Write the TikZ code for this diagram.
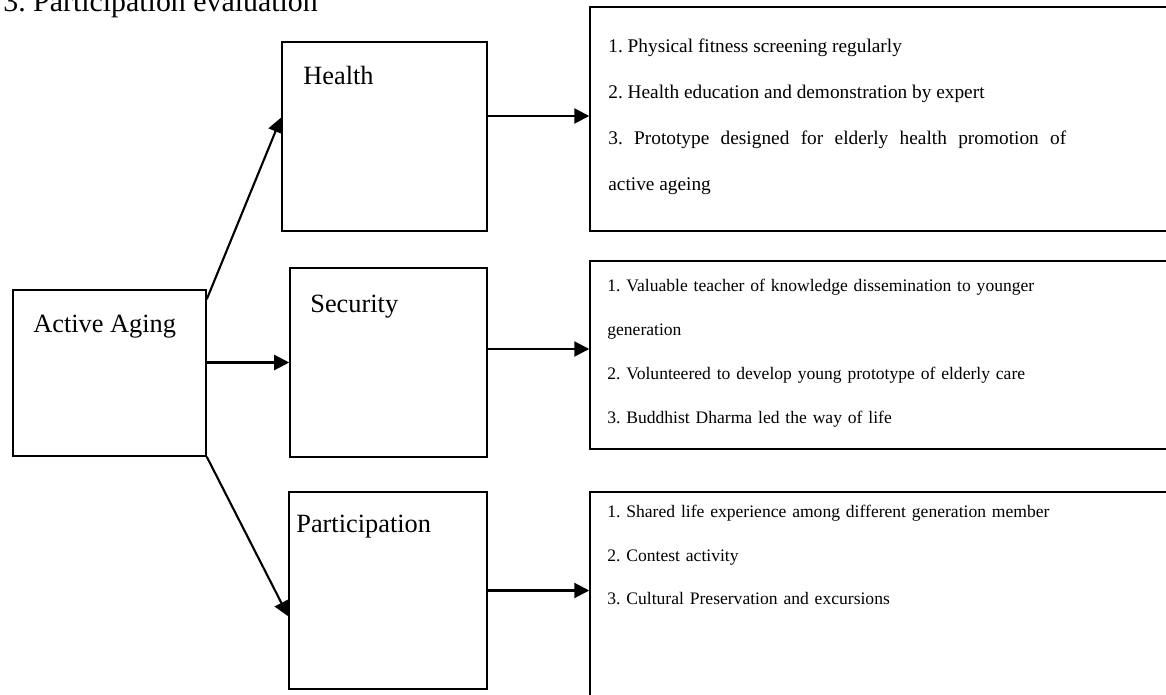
\documentclass[tikz,border=0pt]{standalone}
\usepackage{fontspec}
\setmainfont{Liberation Serif}
\usetikzlibrary{arrows.meta,calc}
\frenchspacing

\begin{document}
\begin{tikzpicture}[x=0.02cm, y=-0.02cm,
        box/.style={draw, line width=0.9pt, inner sep=0pt},
        lbl/.style={anchor=base west, inner sep=0pt, font=\fontsize{15}{18}\selectfont},
        items/.style={anchor=base west, inner sep=0pt, text width=10.5cm, align=left},
        arr/.style={-{Triangle[length=3mm,width=3mm]}, line width=1.2pt}
    ]
        \useasboundingbox (0,0) rectangle (1166,695);

        \node[anchor=base west, inner sep=0pt, font=\fontsize{17}{20}\selectfont] (title) at (3,12) {3. Participation evaluation};

        % left
        \node[box, minimum width=3.86cm, minimum height=3.32cm] (act) at (109.5,373) {};
        \node[lbl] (acttxt) at (33,333) {Active Aging};

        % middle
        \node[box, minimum width=4.1cm, minimum height=3.78cm] (health) at (384.5,136.5) {};
        \node[lbl] (healthtxt) at (303,85) {Health};
        \node[box, minimum width=3.94cm, minimum height=3.78cm] (sec) at (388.5,362.5) {};
        \node[lbl] (sectxt) at (310,313) {Security};
        \node[box, minimum width=3.96cm, minimum height=3.94cm] (part) at (388,590.5) {};
        \node[lbl] (parttxt) at (296,532) {Participation};

        % right
        \node[box, minimum width=12.2cm, minimum height=4.48cm] (hlist) at (895,119) {};
        \node[items, text width=9.16cm, align=justify, font=\fontsize{11}{26}\selectfont] (hitems) at (608,53) {
            1. Physical fitness screening regularly\\
            2. Health education and demonstration by expert\\
            3. Prototype designed for elderly health promotion of\linebreak active ageing
        };
        \node[box, minimum width=12.2cm, minimum height=3.76cm] (slist) at (895,355) {};
        \node[items, font=\fontsize{10}{25}\selectfont] (sitems) at (607,292) {
            1. Valuable teacher of knowledge dissemination to younger\\
            generation\\
            2. Volunteered to develop young prototype of elderly care\\
            3. Buddhist Dharma led the way of life
        };
        \node[box, minimum width=12.2cm, minimum height=4.56cm] (plist) at (895,606) {};
        \node[items, font=\fontsize{10}{24.7}\selectfont] (pitems) at (607,518) {
            1. Shared life experience among different generation member\\
            2. Contest activity\\
            3. Cultural Preservation and excursions
        };

        \draw[arr] ($(act.north east)!0.06!(act.south east)$) -- ($(health.north west)!0.4!(health.south west)$);
        \draw[arr] (act.east |- sec.west) -- (sec.west);
        \draw[arr] (act.south east) -- ($(part.north west)!0.63!(part.south west)$);
        \draw[arr, transform canvas={yshift=0.06cm}] (hlist.west -| health.east) -- (hlist.west);
        \draw[arr, transform canvas={yshift=0.12cm}] (slist.west -| sec.east) -- (slist.west);
        \draw[arr] (part.east) -- (part.east -| plist.west);
    \end{tikzpicture}
\end{document}
